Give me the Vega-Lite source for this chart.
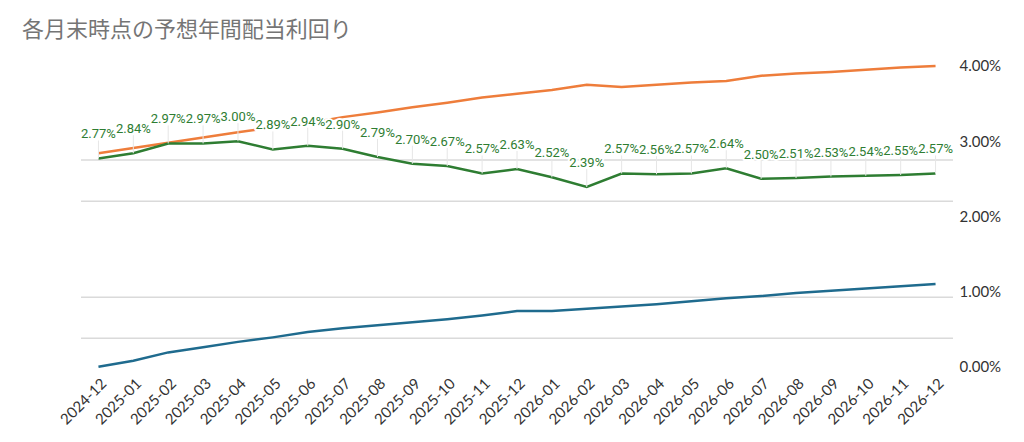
{
  "$schema": "https://vega.github.io/schema/vega-lite/v6.json",
  "autosize": {"type": "none"},
  "padding": {"left": 81, "top": 66, "right": 71, "bottom": 75},
  "width": 872,
  "height": 300.7,
  "config": {
    "view": {"stroke": null},
    "axis": {"labelFont": "Lato", "labelFontSize": 15, "labelColor": "#333333"}
  },
  "title": {
    "text": "各月末時点の予想年間配当利回り",
    "anchor": "start",
    "frame": "group",
    "dx": -59,
    "dy": 20,
    "offset": 15,
    "baseline": "bottom",
    "font": "Noto Sans CJK JP",
    "fontSize": 22,
    "fontWeight": "normal",
    "color": "#757575"
  },
  "datasets": {
    "yields": [
      {"month": "2024-12", "cost": 0.0284, "received": 0.0000, "market": 0.0277},
      {"month": "2025-01", "cost": 0.0291, "received": 0.0008, "market": 0.0284},
      {"month": "2025-02", "cost": 0.0298, "received": 0.0019, "market": 0.0297},
      {"month": "2025-03", "cost": 0.0305, "received": 0.0026, "market": 0.0297},
      {"month": "2025-04", "cost": 0.0312, "received": 0.0033, "market": 0.0300},
      {"month": "2025-05", "cost": 0.0318, "received": 0.0039, "market": 0.0289},
      {"month": "2025-06", "cost": 0.0324, "received": 0.0046, "market": 0.0294},
      {"month": "2025-07", "cost": 0.0332, "received": 0.0051, "market": 0.0290},
      {"month": "2025-08", "cost": 0.0338, "received": 0.0055, "market": 0.0279},
      {"month": "2025-09", "cost": 0.0345, "received": 0.0059, "market": 0.0270},
      {"month": "2025-10", "cost": 0.0351, "received": 0.0063, "market": 0.0267},
      {"month": "2025-11", "cost": 0.0358, "received": 0.0068, "market": 0.0257},
      {"month": "2025-12", "cost": 0.0363, "received": 0.0074, "market": 0.0263},
      {"month": "2026-01", "cost": 0.0368, "received": 0.0074, "market": 0.0252},
      {"month": "2026-02", "cost": 0.0375, "received": 0.0077, "market": 0.0239},
      {"month": "2026-03", "cost": 0.0372, "received": 0.0080, "market": 0.0257},
      {"month": "2026-04", "cost": 0.0375, "received": 0.0083, "market": 0.0256},
      {"month": "2026-05", "cost": 0.0378, "received": 0.0087, "market": 0.0257},
      {"month": "2026-06", "cost": 0.0380, "received": 0.0091, "market": 0.0264},
      {"month": "2026-07", "cost": 0.0387, "received": 0.0094, "market": 0.0250},
      {"month": "2026-08", "cost": 0.0390, "received": 0.0098, "market": 0.0251},
      {"month": "2026-09", "cost": 0.0392, "received": 0.0101, "market": 0.0253},
      {"month": "2026-10", "cost": 0.0395, "received": 0.0104, "market": 0.0254},
      {"month": "2026-11", "cost": 0.0398, "received": 0.0107, "market": 0.0255},
      {"month": "2026-12", "cost": 0.0400, "received": 0.0110, "market": 0.0257}
    ],
    "grid": [
      {"g": 0.0275},
      {"g": 0.0220},
      {"g": 0.00923},
      {"g": 0.00378}
    ]
  },
  "layer": [
    {
      "data": {"name": "grid"},
      "mark": {"type": "rule", "color": "#dadada", "strokeWidth": 1.5},
      "encoding": {
        "y": {
          "field": "g",
          "type": "quantitative",
          "scale": {"domain": [0, 0.04], "nice": false},
          "axis": {
            "orient": "right",
            "title": null,
            "values": [0, 0.01, 0.02, 0.03, 0.04],
            "format": ".2%",
            "grid": false,
            "ticks": false,
            "domain": false,
            "labelPadding": 6
          }
        }
      }
    },
    {
      "data": {"name": "yields"},
      "transform": [{"fold": ["cost", "received", "market"], "as": ["series", "value"]}],
      "mark": {"type": "line", "strokeWidth": 2.5},
      "encoding": {
        "x": {
          "field": "month",
          "type": "ordinal",
          "sort": null,
          "scale": {"type": "point", "padding": 0.5},
          "axis": {
            "title": null,
            "labelAngle": -45,
            "ticks": false,
            "domain": false,
            "labelPadding": 9,
            "grid": false
          }
        },
        "y": {"field": "value", "type": "quantitative"},
        "color": {
          "field": "series",
          "type": "nominal",
          "scale": {"domain": ["cost", "received", "market"], "range": ["#ee7d3b", "#1f6b8e", "#2e7d32"]},
          "legend": null
        }
      }
    },
    {
      "data": {"name": "yields"},
      "mark": {"type": "rule", "color": "#e6e6e6", "strokeWidth": 1, "y2Offset": -18},
      "encoding": {
        "x": {"field": "month", "type": "ordinal", "sort": null},
        "y": {"field": "market", "type": "quantitative"},
        "y2": {"field": "market"}
      }
    },
    {
      "data": {"name": "yields"},
      "mark": {"type": "text", "font": "Roboto", "fontSize": 13, "baseline": "middle", "dy": -24, "fill": "white", "stroke": "white", "strokeWidth": 4, "strokeJoin": "round"},
      "encoding": {
        "x": {"field": "month", "type": "ordinal", "sort": null},
        "y": {"field": "market", "type": "quantitative"},
        "text": {"field": "market", "type": "quantitative", "format": ".2%"}
      }
    },
    {
      "data": {"name": "yields"},
      "mark": {"type": "text", "font": "Roboto", "fontSize": 13, "baseline": "middle", "dy": -24, "color": "#2e7d32"},
      "encoding": {
        "x": {"field": "month", "type": "ordinal", "sort": null},
        "y": {"field": "market", "type": "quantitative"},
        "text": {"field": "market", "type": "quantitative", "format": ".2%"}
      }
    }
  ]
}
